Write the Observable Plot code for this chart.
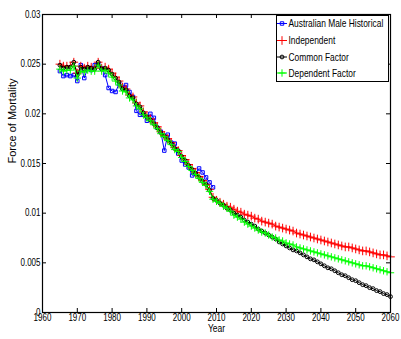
<!DOCTYPE html>
<html><head><meta charset="utf-8">
<script src="https://cdn.jsdelivr.net/npm/d3@7"></script>
<script src="https://cdn.jsdelivr.net/npm/@observablehq/plot@0.6"></script>
<style>
body{margin:0;background:#fff;}
#wrap{position:relative;width:401px;height:339px;}
#legend{position:absolute;left:0;top:0;}
</style>
</head><body><div id="wrap"></div>
<script>
const FONT = '"Liberation Sans",Arial,Helvetica,sans-serif';

// ---- data ----
const xTicks = [1960, 1970, 1980, 1990, 2000, 2010, 2020, 2030, 2040, 2050, 2060];
const yTicks = [0, 0.005, 0.01, 0.015, 0.02, 0.025, 0.03];
const xLabel = "Year";
const yLabel = "Force of Mortality";

const seriesNames = ["Australian Male Historical", "Independent", "Common Factor", "Dependent Factor"];
const seriesColors = ["#0000ff", "#ff0000", "#000000", "#00ff00"];
const seriesSymbols = ["square2", "plus", "circle", "plus"];

const histStart = 1965;   // historical 1965-2009
const fitStart = 1965;    // fitted 1965-2010, forecast 2011-2060

const historical = [
  0.0243,0.0238,0.0239,0.0238,0.0239,0.0233,0.0249,0.0236,0.0246,0.0244,
  0.0249,0.0250,0.0246,0.0239,0.0226,0.0223,0.0222,0.0230,0.0227,0.0229,
  0.0222,0.0217,0.0203,0.0199,0.0199,0.0193,0.0200,0.0196,0.0186,0.0182,
  0.0163,0.0179,0.0171,0.0170,0.0160,0.0153,0.0149,0.0146,0.0138,0.0140,
  0.0145,0.0141,0.0136,0.0131,0.0126
];

const independent = [
  0.0250,0.0248,0.0248,0.0248,0.0252,0.0241,0.0248,0.0246,0.0248,0.0247,
  0.0246,0.0252,0.0246,0.0247,0.0245,0.0241,0.0237,0.0233,0.0227,0.0225,
  0.0219,0.0217,0.0211,0.0208,0.0202,0.0198,0.0195,0.0191,0.0187,0.0182,
  0.0178,0.0175,0.0171,0.0166,0.0163,0.0158,0.0154,0.0149,0.0145,0.0141,
  0.0137,0.0133,0.0129,0.0124,0.0116,0.0113,
  0.0111,0.0109,0.0107,0.0106,0.0104,0.0102,0.0101,0.0099,0.0098,0.0097,
  0.0095,0.0094,0.0092,0.0091,0.0090,0.0089,0.0087,0.0086,0.0085,0.0084,
  0.0083,0.0082,0.0080,0.0079,0.0078,0.0077,0.0076,0.0075,0.0074,0.0073,
  0.0072,0.0071,0.0070,0.0069,0.0068,0.0067,0.0066,0.0066,0.0065,0.0064,
  0.0063,0.0062,0.0062,0.0061,0.0060,0.0059,0.0058,0.0058,0.0057,0.0056
];

const commonFactor = [
  0.0249,0.0246,0.0247,0.0247,0.0252,0.0239,0.0247,0.0245,0.0247,0.0246,
  0.0245,0.0252,0.0245,0.0246,0.0244,0.0240,0.0236,0.0232,0.0225,0.0224,
  0.0218,0.0216,0.0210,0.0207,0.0201,0.0197,0.0194,0.0190,0.0186,0.0181,
  0.0178,0.0174,0.0170,0.0165,0.0163,0.0157,0.0153,0.0148,0.0144,0.0140,
  0.0136,0.0132,0.0129,0.0123,0.0115,0.0113,
  0.0110,0.0108,0.0105,0.0103,0.0100,0.0098,0.0096,0.0093,0.0091,0.0089,
  0.0087,0.0084,0.0082,0.0080,0.0078,0.0076,0.0074,0.0071,0.0069,0.0067,
  0.0065,0.0063,0.0062,0.0060,0.0058,0.0056,0.0054,0.0053,0.0051,0.0049,
  0.0047,0.0045,0.0044,0.0042,0.0040,0.0038,0.0037,0.0035,0.0033,0.0032,
  0.0030,0.0028,0.0027,0.0025,0.0024,0.0022,0.0021,0.0019,0.0018,0.0016
];

const dependentFactor = [
  0.0245,0.0243,0.0244,0.0244,0.0248,0.0236,0.0243,0.0242,0.0244,0.0243,
  0.0243,0.0249,0.0243,0.0244,0.0241,0.0237,0.0233,0.0229,0.0223,0.0222,
  0.0216,0.0214,0.0208,0.0205,0.0199,0.0196,0.0193,0.0189,0.0185,0.0180,
  0.0177,0.0173,0.0169,0.0164,0.0162,0.0156,0.0152,0.0147,0.0143,0.0139,
  0.0135,0.0131,0.0128,0.0122,0.0114,0.0112,
  0.0110,0.0107,0.0105,0.0102,0.0098,0.0096,0.0094,0.0091,0.0089,0.0087,
  0.0085,0.0083,0.0081,0.0080,0.0078,0.0076,0.0075,0.0073,0.0072,0.0070,
  0.0069,0.0068,0.0066,0.0065,0.0064,0.0063,0.0062,0.0061,0.0060,0.0059,
  0.0058,0.0057,0.0056,0.0055,0.0054,0.0053,0.0052,0.0051,0.0050,0.0049,
  0.0048,0.0047,0.0047,0.0046,0.0045,0.0044,0.0043,0.0042,0.0041,0.0040
];

// ---- build tables ----
const toRows = (vals, start) => vals.map((v, i) => ({year: start + i, value: v}));
const series = [
  toRows(historical, histStart),
  toRows(independent, fitStart),
  toRows(commonFactor, fitStart),
  toRows(dependentFactor, fitStart)
];

const W = 401, H = 339;
const mL = 42, mR = 11, mT = 14, mB = 27;
const pw = W - mL - mR, ph = H - mT - mB;
const TICK = 4;
const symR = [2.2, 2.9, 1.9, 2.5];

const seriesMarks = series.flatMap((rows, k) => [
  Plot.line(rows, {x: "year", y: "value", stroke: seriesColors[k], strokeWidth: 1}),
  Plot.dot(rows, {x: "year", y: "value", symbol: seriesSymbols[k], r: symR[k],
                  stroke: seriesColors[k], fill: "none", strokeWidth: 1})
]);

const chart = Plot.plot({
  width: W, height: H,
  marginLeft: mL, marginRight: mR, marginTop: mT, marginBottom: mB,
  style: {fontFamily: FONT, fontSize: "10px", background: "white", color: "black", overflow: "visible"},
  x: {domain: [1960, 2060], label: null},
  y: {domain: [0, 0.03], label: null},
  marks: [
    Plot.ruleX(xTicks, {x: d => d, insetTop: ph - TICK, stroke: "black"}),
    Plot.ruleX(xTicks, {x: d => d, insetBottom: ph - TICK, stroke: "black"}),
    Plot.ruleY(yTicks, {y: d => d, insetRight: pw - TICK, stroke: "black"}),
    Plot.ruleY(yTicks, {y: d => d, insetLeft: pw - TICK, stroke: "black"}),
    Plot.axisX(xTicks, {anchor: "bottom", tickSize: 0, tickPadding: 1, tickFormat: d => String(d), label: null}),
    Plot.axisY(yTicks, {anchor: "left", tickSize: 0, tickPadding: 2, tickFormat: d => String(d), label: null}),
    Plot.text([xLabel], {frameAnchor: "bottom", lineAnchor: "top", dy: 12, text: d => d}),
    Plot.text([yLabel], {frameAnchor: "left", rotate: -90, dx: -30, fontSize: 11, text: d => d}),
    ...seriesMarks,
    Plot.frame({stroke: "black", strokeWidth: 1.2})
  ]
});

const wrap = document.getElementById("wrap");
wrap.appendChild(chart);

// ---- legend (inside the axes, top-right) ----
const lg = d3.select(wrap).append("svg")
  .attr("id", "legend")
  .attr("width", W).attr("height", H)
  .style("pointer-events", "none");
const box = {x: 276, y: 15, w: 112, h: 66};
lg.append("rect").attr("x", box.x + 0.5).attr("y", box.y + 0.5)
  .attr("width", box.w).attr("height", box.h)
  .attr("fill", "white").attr("stroke", "black").attr("stroke-width", 1);
const rowY = [23.5, 40.5, 57, 73];
const symMap = {square2: d3.symbolSquare2, plus: d3.symbolPlus, circle: d3.symbolCircle};
seriesNames.forEach((name, k) => {
  const y = rowY[k];
  lg.append("line").attr("x1", box.x + 1).attr("x2", box.x + 11).attr("y1", y).attr("y2", y)
    .attr("stroke", seriesColors[k]).attr("stroke-width", 1);
  lg.append("path").attr("transform", `translate(${box.x + 6},${y})`)
    .attr("d", d3.symbol(symMap[seriesSymbols[k]], Math.PI * symR[k] * symR[k])())
    .attr("fill", "none").attr("stroke", seriesColors[k]).attr("stroke-width", 1);
  lg.append("text").attr("class", "lgtext").attr("x", box.x + 12.5).attr("y", y).attr("dy", "0.35em")
    .attr("font-family", FONT).attr("font-size", "10.5px").attr("fill", "black")
    .text(name);
});

// condensed (Helvetica-Narrow-like) look: squeeze glyphs horizontally, keep anchors
function condense(textEl, factor) {
  const len = textEl.getComputedTextLength();
  if (len > 0) {
    textEl.setAttribute("textLength", (len * factor).toFixed(2));
    textEl.setAttribute("lengthAdjust", "spacingAndGlyphs");
  }
}
chart.querySelectorAll("text").forEach(t => {
  if (t.textContent === yLabel) return;
  condense(t, t.textContent === xLabel ? 0.85 : 0.8);
});
lg.selectAll("text.lgtext").each(function() { condense(this, 0.8); });
</script>
</body></html>
